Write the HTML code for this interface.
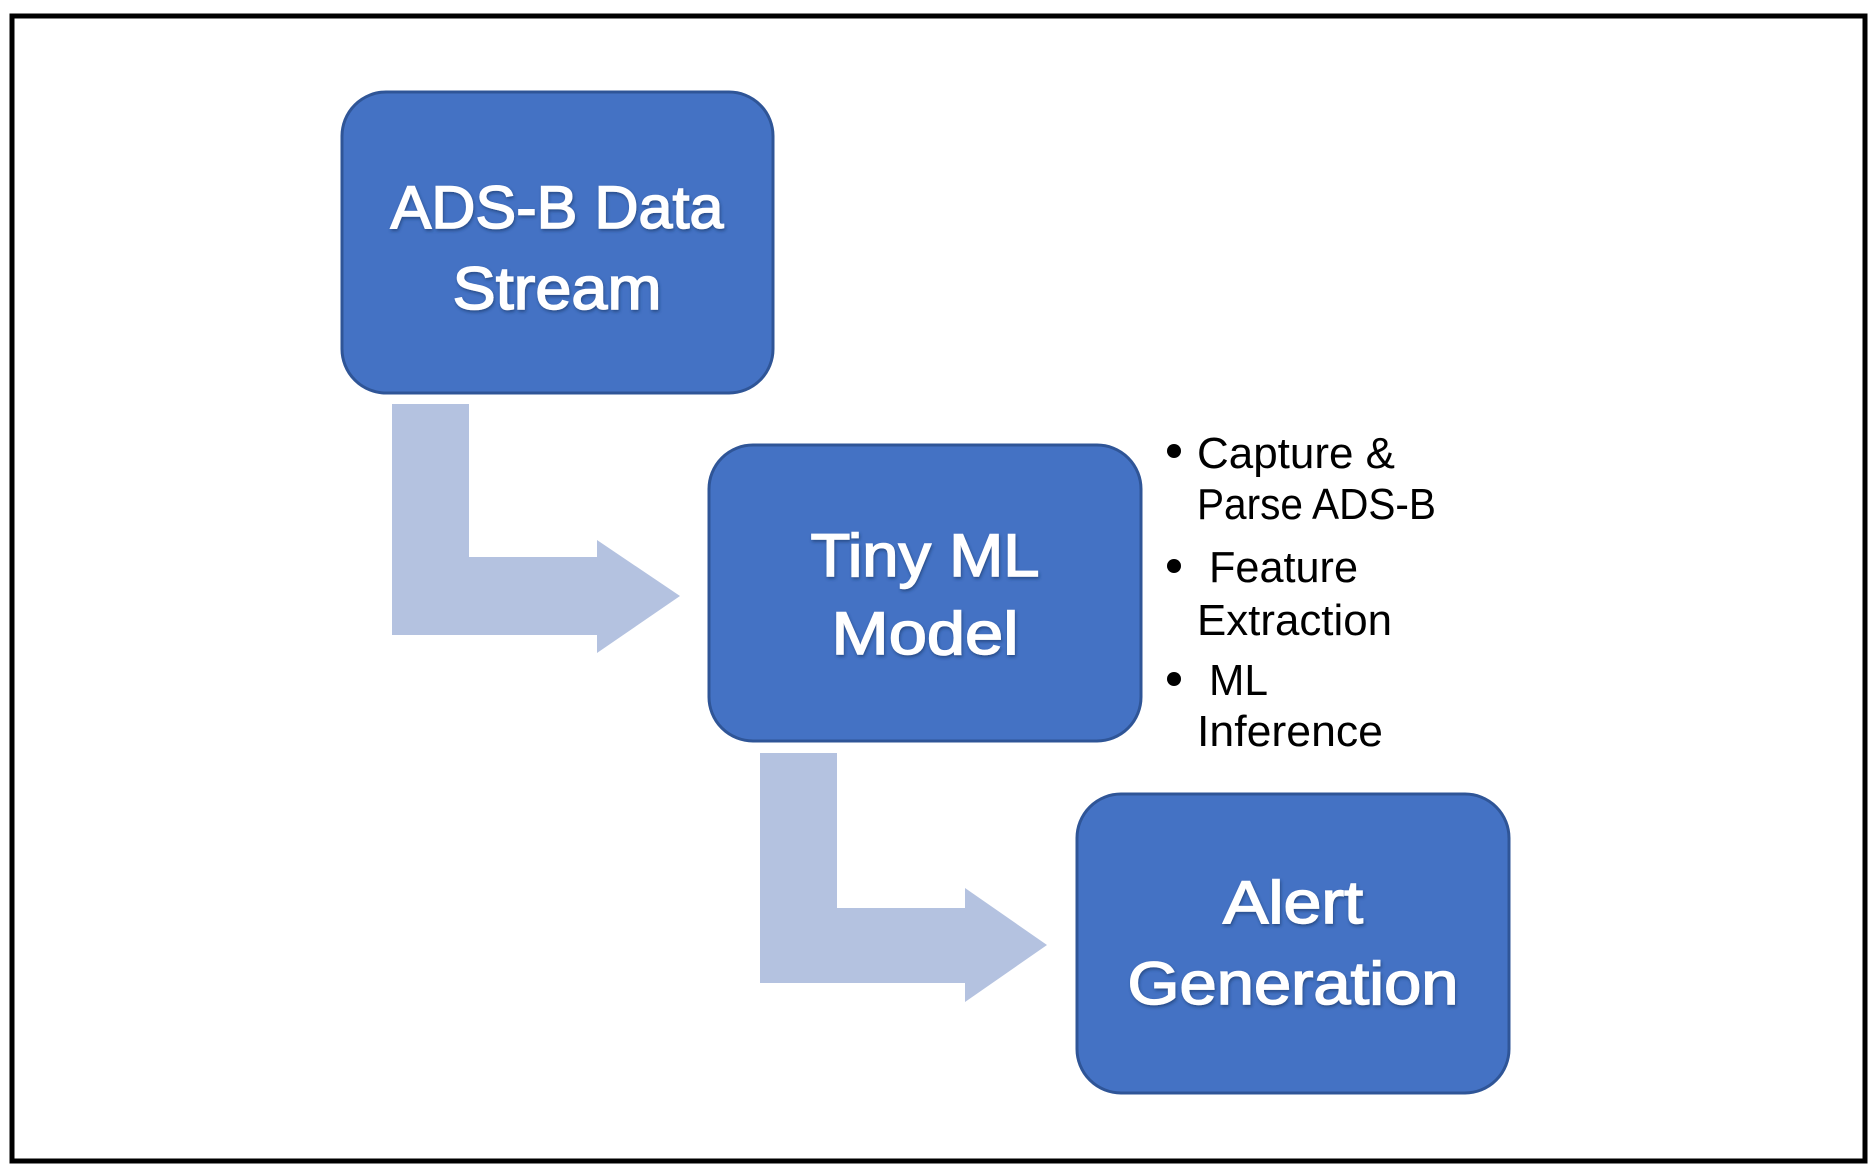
<!DOCTYPE html>
<html><head><meta charset="utf-8"><style>html,body{margin:0;padding:0;background:#fff}svg{display:block}</style></head>
<body>
<svg width="1870" height="1167" viewBox="0 0 1870 1167" xmlns="http://www.w3.org/2000/svg">
<defs>
<filter id="sh" x="-10%" y="-10%" width="120%" height="130%"><feDropShadow dx="1" dy="2" stdDeviation="1.5" flood-color="#1f3a6e" flood-opacity="0.7"/></filter>
</defs>
<rect x="0" y="0" width="1870" height="1167" fill="#fff"/>
<rect x="12" y="16" width="1853" height="1145" fill="none" stroke="#000" stroke-width="5"/>
<g fill="#B4C2E0">
<polygon points="392,404 469,404 469,557 597,557 597,540 680,596 597,653 597,635 392,635"/>
<polygon points="760,753 837,753 837,908 965,908 965,888 1047,945 965,1002 965,983 760,983"/>
</g>
<g fill="#4472C4" stroke="#2F5597" stroke-width="3">
<rect x="342" y="92" width="431" height="301" rx="44"/>
<rect x="709" y="445" width="432" height="296" rx="44"/>
<rect x="1077" y="794" width="432" height="299" rx="44"/>
</g>
<g fill="#fff" stroke="#fff" stroke-width="1.5" font-family="Liberation Sans, sans-serif" font-size="60" text-anchor="middle" filter="url(#sh)">
<text x="557" y="228" textLength="333" lengthAdjust="spacingAndGlyphs">ADS-B Data</text>
<text x="557" y="309" textLength="209" lengthAdjust="spacingAndGlyphs">Stream</text>
<text x="925" y="576" textLength="229" lengthAdjust="spacingAndGlyphs">Tiny ML</text>
<text x="925" y="654" textLength="187" lengthAdjust="spacingAndGlyphs">Model</text>
<text x="1293" y="923" textLength="140" lengthAdjust="spacingAndGlyphs">Alert</text>
<text x="1293" y="1004" textLength="331" lengthAdjust="spacingAndGlyphs">Generation</text>
</g>
<g fill="#000" font-family="Liberation Sans, sans-serif" font-size="44">
<circle cx="1174" cy="451" r="7"/>
<circle cx="1174" cy="566" r="7"/>
<circle cx="1174" cy="679" r="7"/>
<text x="1197" y="468" textLength="198" lengthAdjust="spacingAndGlyphs">Capture &amp;</text>
<text x="1197" y="519" textLength="239" lengthAdjust="spacingAndGlyphs">Parse ADS-B</text>
<text x="1209" y="582" textLength="149" lengthAdjust="spacingAndGlyphs">Feature</text>
<text x="1197" y="635" textLength="195" lengthAdjust="spacingAndGlyphs">Extraction</text>
<text x="1209" y="695" textLength="59" lengthAdjust="spacingAndGlyphs">ML</text>
<text x="1197" y="746" textLength="186" lengthAdjust="spacingAndGlyphs">Inference</text>
</g>
</svg>
</body></html>
